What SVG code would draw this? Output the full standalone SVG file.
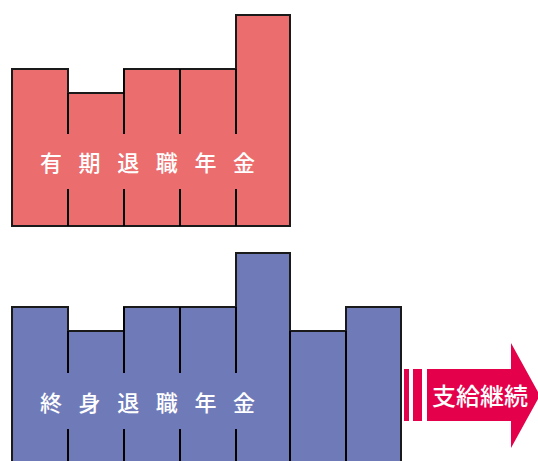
<svg xmlns="http://www.w3.org/2000/svg" width="538" height="461" viewBox="0 0 538 461">
<style>
.r{fill:#eb6d6d;stroke:#1a1a1a;stroke-width:2}
.b{fill:#6f7bb8;stroke:#1a1a1a;stroke-width:2}
.d{stroke:#000;stroke-width:2}
.t{font-family:"Noto Sans CJK JP","Noto Sans CJK SC",sans-serif;fill:#fff;font-weight:500}
</style>
<rect width="538" height="461" fill="#fff"/>
<g id="fixed-term">
<path class="r" d="M12,69 H68 V93 H124 V69 H236 V15 H290 V226 H12 Z"/>
<g class="d">
<line x1="68" y1="93" x2="68" y2="134"/><line x1="68" y1="189" x2="68" y2="226"/>
<line x1="124" y1="69" x2="124" y2="134"/><line x1="124" y1="189" x2="124" y2="226"/>
<line x1="180" y1="69" x2="180" y2="134"/><line x1="180" y1="189" x2="180" y2="226"/>
<line x1="236" y1="69" x2="236" y2="134"/><line x1="236" y1="189" x2="236" y2="226"/>
</g>
<text class="t" x="40" y="171" font-size="22" letter-spacing="16.6">有期退職年金</text>
</g>
<g id="lifetime">
<path class="b" d="M12,307 H68 V331 H124 V307 H236 V253 H290 V331 H346 V307 H401 V470 H12 Z"/>
<g class="d">
<line x1="68" y1="331" x2="68" y2="373"/><line x1="68" y1="429" x2="68" y2="470"/>
<line x1="124" y1="307" x2="124" y2="373"/><line x1="124" y1="429" x2="124" y2="470"/>
<line x1="180" y1="307" x2="180" y2="373"/><line x1="180" y1="429" x2="180" y2="470"/>
<line x1="236" y1="307" x2="236" y2="373"/><line x1="236" y1="429" x2="236" y2="470"/>
<line x1="290" y1="331" x2="290" y2="470"/>
<line x1="346" y1="331" x2="346" y2="470"/>
</g>
<text class="t" x="40" y="411" font-size="22" letter-spacing="16.6">終身退職年金</text>
</g>
<g id="connectors">
<g id="continue-arrow" fill="#e4004a">
<rect x="404" y="369" width="5" height="52"/>
<rect x="413" y="369" width="9" height="52"/>
<path d="M427,369 H511 V343 L540,395.5 L511,448 V421 H427 Z"/>
</g>
<text class="t" x="432" y="405" font-size="24" font-weight="400">支給継続</text>
</g>
</svg>
